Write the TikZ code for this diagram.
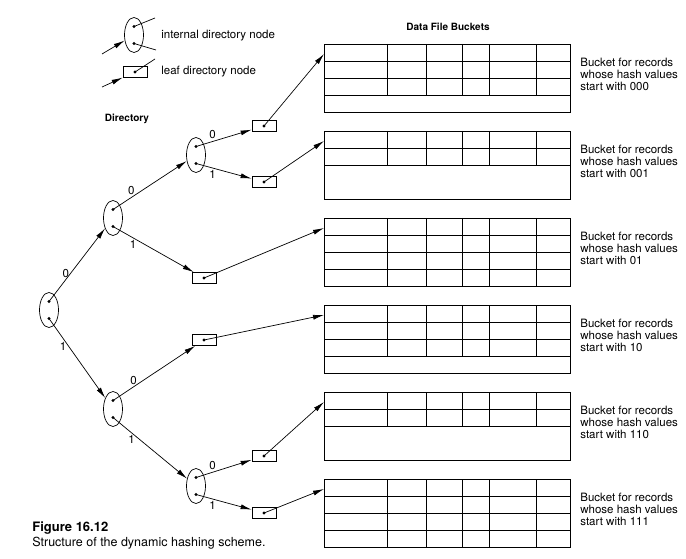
\documentclass[tikz,border=0pt]{standalone}
\usepackage{fontspec}
\setmainfont{TeX Gyre Heros}
\usetikzlibrary{arrows.meta,shapes.geometric}

\begin{document}
\begin{tikzpicture}[->, >={Latex[length=11pt,width=5pt]}, x=1pt, y=-1pt,
                    line width=0.7pt, font=\fontsize{11.5}{12}\selectfont]
    \tikzstyle{inner node}=[draw, ellipse, minimum width=19pt, minimum height=35pt, inner sep=0pt]
    \tikzstyle{leaf node}=[draw, rectangle, minimum width=24pt, minimum height=11pt, inner sep=0pt]
    \tikzstyle{bucket}=[draw, rectangle, minimum width=246pt, minimum height=68pt, inner sep=0pt, anchor=north west]
    \tikzstyle{bit}=[inner sep=2pt]
    \tikzstyle{txt}=[inner sep=0pt, anchor=west, align=left]

    \useasboundingbox (0,0) rectangle (686,559);

    % key
    \node[inner node] (keyint)  at (134,35) {};
    \node[leaf node]  (keyleaf) at (135,72) {};
    \coordinate (keyin a)  at (102,54);
    \coordinate (keyin b)  at (102,87);
    \coordinate (keyout a) at (155,18);
    \coordinate (keyout b) at (156,50);
    \coordinate (keyout c) at (155,59);
    \node[txt] (keyint text)  at (161,36) {internal directory node};
    \node[txt] (keyleaf text) at (161,72) {leaf directory node};

    \node[font=\bfseries] (dir title)  at (127,119) {Directory};
    \node[font=\bfseries] (data title) at (448,27)  {Data File Buckets};

    % directory
    \node[inner node] (root) at (49,310)  {};
    \node[inner node] (n0)   at (113,218) {};
    \node[inner node] (n1)   at (113,409) {};
    \node[inner node] (n00)  at (196,155) {};
    \node[inner node] (n11)  at (196,486) {};

    \node[leaf node] (l000) at (264,126) {};
    \node[leaf node] (l001) at (264,182) {};
    \node[leaf node] (l01)  at (204,278) {};
    \node[leaf node] (l10)  at (204,340) {};
    \node[leaf node] (l110) at (264,456) {};
    \node[leaf node] (l111) at (264,513) {};

    \foreach \n in {keyint,root,n0,n1,n00,n11} {
        \path (\n) ++(0,-8.5) coordinate (\n-0) ++(0,17) coordinate (\n-1);
        \fill[-] (\n-0) circle (1.6pt) (\n-1) circle (1.6pt);
    }
    \foreach \l in {keyleaf,l000,l001,l01,l10,l110,l111}
        \fill[-] (\l) circle (1.6pt);

    % buckets
    \foreach \b/\y/\rows in {000/44/3, 001/131/2, 01/218/4, 10/305/3, 110/392/2, 111/479/4} {
        \node[bucket] (b\b) at (324,\y) {};
        \foreach \r in {1,...,\rows}
            \draw[-] (324,\y+17*\r) -- (570,\y+17*\r);
        \foreach \c in {387,426,462,489,536}
            \draw[-] (\c,\y) -- (\c,\y+17*\rows);
        \coordinate (in\b) at (324,\y+10);
        \node[txt] (t\b) at (580,\y+30) {Bucket for records\\whose hash values\\start with \b};
    }

    \draw (keyin a) -- (keyint);
    \draw (keyin b) -- (keyleaf);
    \draw[-] (keyint-0) -- (keyout a);
    \draw[-] (keyint-1) -- (keyout b);
    \draw[-] (keyleaf.center) -- (keyout c);

    \draw (root-0) -- node[bit, pos=.3, above]  {0} (n0);
    \draw (root-1) -- node[bit, pos=.35, left]  {1} (n1);
    \draw (n0-0)   -- node[bit, pos=.25, above] {0} (n00);
    \draw (n0-1)   -- node[bit, pos=.25, below] {1} (l01);
    \draw (n1-0)   -- node[bit, pos=.25, above] {0} (l10);
    \draw (n1-1)   -- node[bit, pos=.25, below] {1} (n11);
    \draw (n00-0)  -- node[bit, pos=.3, above]  {0} (l000);
    \draw (n00-1)  -- node[bit, pos=.3, below]  {1} (l001);
    \draw (n11-0)  -- node[bit, pos=.3, above]  {0} (l110);
    \draw (n11-1)  -- node[bit, pos=.3, below]  {1} (l111);

    \foreach \b in {000,001,01,10,110,111}
        \draw (l\b.center) -- (in\b);

    % caption
    \node[txt, font=\bfseries\fontsize{13}{14}\selectfont] (fig) at (32,528) {Figure 16.12};
    \node[txt, font=\fontsize{12.5}{14}\selectfont] (cap) at (32,543) {Structure of the dynamic hashing scheme.};
\end{tikzpicture}
\end{document}
